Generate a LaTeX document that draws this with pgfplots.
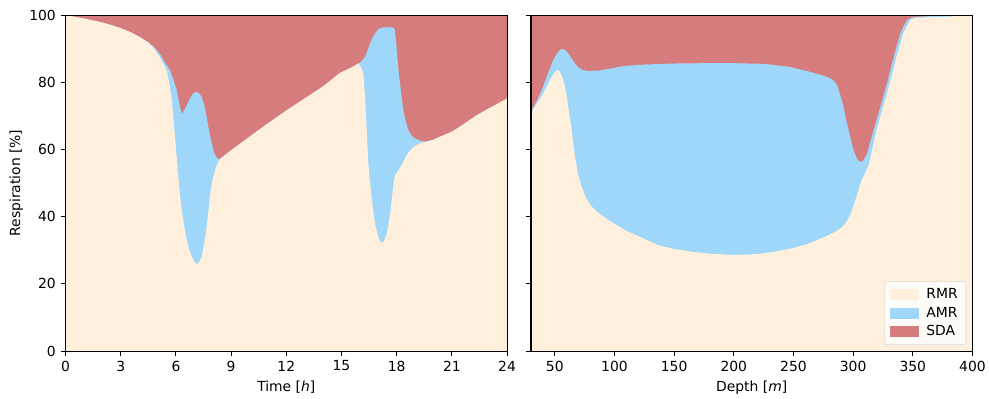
\documentclass[border=0pt]{standalone}
\usepackage{fontspec}
\setmainfont{DejaVu Sans}
\usepackage{pgfplots}
\pgfplotsset{compat=1.18}
\definecolor{rmr}{RGB}{254,240,220}
\definecolor{amr}{RGB}{159,215,250}
\definecolor{sda}{RGB}{215,124,124}
\pgfplotsset{
  base/.style={
    scale only axis, width=317.9pt, height=241.9pt,
    ymin=0, ymax=100, ytick={0,20,40,60,80,100},
    axis on top, tick align=outside, major tick length=3.5pt,
    tick pos=left,
    every tick/.style={black, line width=0.8pt},
    axis line style={black, line width=0.8pt},
    tick label style={font=\fontsize{10}{12}\selectfont},
    label style={font=\fontsize{10}{12}\selectfont},
    /pgf/number format/assume math mode=true,
    /pgf/number format/1000 sep={},
  },
  fillstyle/.style={draw=none, fill=#1, forget plot},
  legend image code/.code={\fill[#1, sharp corners, fill opacity=1] (0pt,-3.5pt) rectangle (20pt,3.5pt); \path (23.5pt,0pt);},
}
\begin{document}
\begin{tikzpicture}
\path[use as bounding box] (0,0) rectangle (712.1pt,286.6pt);
% ---------------- left: time ----------------
\begin{axis}[base, at={(47.2pt,33.8pt)}, anchor=south west,
  xmin=0, xmax=24, xtick={0,3,6,9,12,15,18,21,24},
  xlabel={Time [\textit{h}]}, ylabel={Respiration [\%]},
  ylabel style={at={(axis description cs:-0.1115,0.5)}, anchor=center}]
% SDA (top of stack = 100)
\addplot[fillstyle=sda] coordinates {(0,100) (24,100)} \closedcycle;
% RMR + AMR
\addplot[fillstyle=amr] coordinates {
(0,100)(0.5,99.5)(1,99.0)(1.5,98.4)(2,97.8)(2.5,97.0)(3,96.1)(3.5,95.0)(4,93.6)(4.5,91.9)(4.8,90.6)(5.14,88.3)(5.4,86.0)(5.68,83.6)(5.85,81.0)(6.04,77.7)(6.22,72.7)(6.3,71.0)(6.37,70.9)(6.45,71.8)(6.59,73.2)(6.86,76.2)(7.0,77.0)(7.13,77.2)(7.25,76.8)(7.40,75.7)(7.55,73.0)(7.67,69.7)(7.8,65.5)(7.95,61.8)(8.08,59.0)(8.18,57.8)(8.36,57.0)
(9,59.8)(10,63.8)(11,67.8)(12,71.6)(13,75.2)(14,78.8)(14.92,82.8)(15.5,84.3)(15.92,85.6)
(16.1,86.3)(16.28,87.6)(16.45,90.0)(16.55,91.6)(16.7,93.4)(16.82,94.5)(17.0,95.8)(17.18,96.3)(17.5,96.4)(17.82,96.3)(17.9,95.6)(17.97,92.0)(18.03,87.6)(18.1,83.5)(18.18,79.7)(18.27,75.5)(18.36,71.7)(18.5,68.2)(18.63,65.8)(18.8,64.2)(18.99,63.3)(19.25,62.7)(19.54,62.3)(20,62.9)(20.35,63.8)(21,65.3)(21.44,66.8)(22,68.9)(22.35,70.2)(23,72.2)(24,75.2)
} \closedcycle;
% RMR
\addplot[fillstyle=rmr] coordinates {
(0,100)(0.5,99.5)(1,99.0)(1.5,98.4)(2,97.8)(2.5,97.0)(3,96.1)(3.5,95.0)(4,93.6)(4.5,91.8)(4.8,90.2)(5.14,87.3)(5.3,85.8)(5.5,83.6)(5.65,79.5)(5.77,74.7)(5.86,69.5)(5.95,63.8)(6.04,57.8)(6.13,51.9)(6.22,46.5)(6.32,42)(6.45,37.2)(6.59,33)(6.72,30.3)(6.86,28.1)(7.0,26.6)(7.13,25.9)(7.27,26.5)(7.40,28.1)(7.53,31.8)(7.67,37)(7.78,42.5)(7.89,47.9)(8.0,51.3)(8.13,53.9)(8.25,55.8)(8.36,57.0)
(9,59.8)(10,63.8)(11,67.8)(12,71.6)(13,75.2)(14,78.8)(14.92,82.8)(15.5,84.3)(15.92,85.6)
(16.05,84.5)(16.19,82.6)(16.28,75.7)(16.37,65.8)(16.46,55.9)(16.55,50.5)(16.64,45.9)(16.73,41.5)(16.82,38)(16.94,35.2)(17.06,33)(17.14,32.4)(17.22,32.2)(17.34,33.2)(17.46,35)(17.57,38.2)(17.67,42)(17.76,46.5)(17.85,50.9)(17.94,52.8)(18.03,53.4)(18.15,54.3)(18.27,55.4)(18.4,56.8)(18.54,58.3)(18.68,59.4)(18.82,60.3)(19.0,61.1)(19.17,61.6)(19.35,62.0)(19.54,62.3)(20,62.9)(20.35,63.8)(21,65.3)(21.44,66.8)(22,68.9)(22.35,70.2)(23,72.2)(24,75.2)
} \closedcycle;
\end{axis}
% ---------------- right: depth ----------------
\begin{axis}[base, at={(382.3pt,33.8pt)}, anchor=south west,
  xmin=30, xmax=400, xtick={50,100,150,200,250,300,350,400},
  yticklabels={},
  xlabel={Depth [\textit{m}]},
  legend cell align=left,
  legend style={at={(rel axis cs:0.986,0.018)}, anchor=south east,
    draw=black!15, rounded corners=2pt, fill=white, fill opacity=0.8, text opacity=1,
    font=\fontsize{10}{12}\selectfont, row sep=0.5pt, inner xsep=4pt, inner ysep=3pt}]
\addplot[fillstyle=sda] coordinates {(30,100) (400,100)} \closedcycle;
\addplot[fillstyle=amr] coordinates {
(30,71.5)(35,74.5)(39,77.7)(43,81.5)(47.4,85.6)(50,87.5)(53,89.1)(55,89.8)(57.1,89.9)(59,89.5)(61.3,88.6)(64,87.1)(66.9,85.6)(69.5,84.5)(72.5,83.8)(76.7,83.4)(86.5,83.5)(95,84.0)(108.9,84.9)(125,85.3)(150,85.6)(175,85.7)(200,85.7)(225,85.5)(247,84.6)(264,83.1)(275,82.0)(280.8,81.2)(284,80.4)(286.4,79.2)(289,76.5)(292,72.7)(294,69.0)(296.2,65.8)(298.3,62.6)(300.4,59.8)(302.5,57.8)(304.5,56.6)(306.6,56.3)(308.7,56.8)(311.6,58.8)(314.4,62.3)(317.2,65.8)(320,69.2)(322.8,72.7)(325.6,76.2)(328.4,79.7)(331.2,83.6)(334,87.6)(336.8,91.2)(339.6,94.5)(342.4,96.8)(345.2,98.5)(349,99.3)(353.6,99.5)(370,99.8)(400,100)
} \closedcycle;
\addplot[fillstyle=rmr] coordinates {
(30,70.8)(35,73.8)(39,75.9)(44.5,79.7)(48.7,82.6)(52,83.6)(53.8,83.4)(55.7,82.1)(57,80.8)(58.5,78.7)(60,76.0)(61.3,72.7)(62.7,69.3)(64.1,65.8)(65.5,61.6)(66.9,57.8)(69.5,52.5)(72.5,48.9)(76,45.6)(80.9,43)(87,41)(94.9,39)(108.9,36)(120,34.2)(136.8,31.5)(150,30.4)(164.8,29.6)(180,29.0)(201.1,28.6)(220,28.9)(234.7,29.6)(250,30.7)(262.6,32)(275,33.8)(285,35.5)(291,37)(295,38.7)(298,41)(301,44)(304,47.5)(307,50.8)(310,53.0)(313,55.5)(316,60.0)(319.5,65.8)(325.1,72.7)(330.7,79.7)(336.3,87.6)(341.9,94.5)(347.5,98.5)(352,99.2)(365,99.4)(381.5,99.6)(400,100)
} \closedcycle;
\addlegendimage{rmr}\addlegendentry{RMR}
\addlegendimage{amr}\addlegendentry{AMR}
\addlegendimage{sda}\addlegendentry{SDA}
\end{axis}
\end{tikzpicture}
\end{document}
